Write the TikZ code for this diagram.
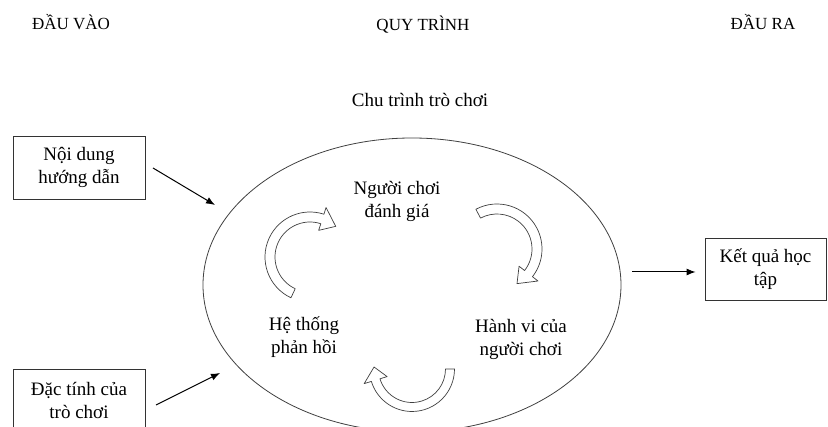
\documentclass[tikz,border=0pt]{standalone}
\usepackage{fontspec}
\setmainfont{Liberation Serif}
\usetikzlibrary{arrows.meta,shapes.geometric}

% hollow curved block arrow: centre x, centre y, radius, body width,
% tail angle, head-base angle, tip angle, head width
\newcommand\cyclearrow[8]{%
  \pgfmathsetmacro\cyRo{#3+#4/2}%
  \pgfmathsetmacro\cyRi{#3-#4/2}%
  \pgfmathsetmacro\cyHo{#3+#8/2}%
  \pgfmathsetmacro\cyHi{#3-#8/2}%
  \begin{scope}[shift={(#1,#2)}]
    \draw[cyclearrowstyle] (#5:\cyRo) arc[start angle=#5,end angle=#6,radius=\cyRo]
      -- (#6:\cyHo) -- (#7:#3) -- (#6:\cyHi) -- (#6:\cyRi)
      arc[start angle=#6,end angle=#5,radius=\cyRi] -- cycle;
  \end{scope}}

\tikzset{
  cyclearrowstyle/.style={draw=black!75, line width=0.7pt, fill=white, line join=round},
  heading/.style={font=\fontsize{17}{20}\selectfont, inner sep=0pt},
  label/.style={font=\fontsize{19}{23}\selectfont, align=center, inner sep=0pt},
  box/.style={draw=black!80, line width=0.8pt, fill=white, align=center,
    font=\fontsize{19}{23}\selectfont, inner sep=0pt},
  conn/.style={line width=1pt, -{Latex[length=9pt,width=7pt]}},
}

\begin{document}
\begin{tikzpicture}[x=1pt,y=1pt]
  \useasboundingbox (0,0) rectangle (828,427);
  \clip (0,0) rectangle (828,427);

  % column headings
  \node[heading] (hin)   at (71,405)  {ĐẦU VÀO};
  \node[heading] (hproc) at (423,402) {QUY TRÌNH};
  \node[heading] (hout)  at (763,405) {ĐẦU RA};

  \node[label] (cycle) at (420,327) {Chu trình trò chơi};

  % the game cycle
  \node[draw=black!75, line width=0.8pt, ellipse, minimum width=418pt,
        minimum height=294pt, inner sep=0pt] (loop) at (412,142) {};

  \node[label] (judge)    at (397,226) {Người chơi\\đánh giá};
  \node[label] (feedback) at (304,90)  {Hệ thống\\phản hồi};
  \node[label] (behave)   at (521,88)  {Hành vi của\\người chơi};

  \cyclearrow{310}{170}{40}{10}{245}{72}{50}{24}
  \cyclearrow{497}{178}{40}{10}{118}{-38}{-60}{24}
  \cyclearrow{412}{58}{38}{9}{0}{-163}{-183}{24}

  % inputs and output
  \node[box, minimum width=132pt, minimum height=63pt] (content) at (79,259.5) {Nội dung\\hướng dẫn};
  \node[box, minimum width=132pt, minimum height=63pt] (traits)  at (79,26.5)  {Đặc tính của\\trò chơi};
  \node[box, minimum width=121pt, minimum height=62pt] (result)  at (765.5,158) {Kết quả học\\tập};

  \coordinate (c1s) at (153,259);
  \coordinate (c1e) at (215,222);
  \coordinate (c2s) at (156,22);
  \coordinate (c2e) at (220,54);
  \coordinate (c3s) at (632,155);

  \draw[conn] (c1s) -- (c1e);
  \draw[conn] (c2s) -- (c2e);
  \draw[conn, shorten >=9pt] (c3s) -- (c3s -| result.west);
\end{tikzpicture}
\end{document}
